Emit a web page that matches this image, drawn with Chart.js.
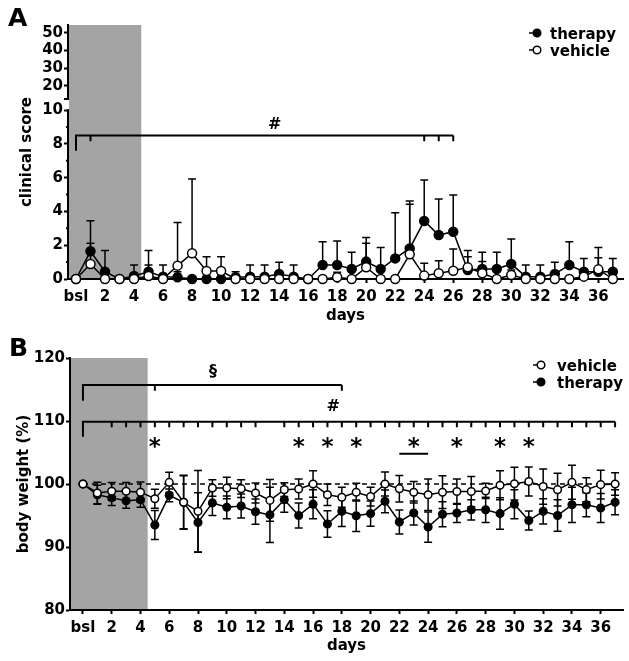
<!DOCTYPE html>
<html>
<head>
<meta charset="utf-8">
<script src="https://cdn.jsdelivr.net/npm/chart.js@4.4.1/dist/chart.umd.min.js"></script>
<style>
  body { margin: 0; background: #fff; }
  #wrapA { position: absolute; left: 0; top: 0; }
  #wrapB { position: absolute; left: 0; top: 320px; }
</style>
</head>
<body>
<div id="wrapA"><canvas id="chartA" width="629" height="330"></canvas></div>
<div id="wrapB"><canvas id="chartB" width="629" height="341"></canvas></div>
<script>
// days after start, bsl = 0
const days = [0, 1, 2, 3, 4, 5, 6, 7, 8, 9, 10, 11, 12, 13, 14, 15, 16, 17, 18, 19,
              20, 21, 22, 23, 24, 25, 26, 27, 28, 29, 30, 31, 32, 33, 34, 35, 36, 37];
const dayTickValues = [0, 2, 4, 6, 8, 10, 12, 14, 16, 18, 20, 22, 24, 26, 28, 30, 32, 34, 36];
const dayTickLabels = ['bsl', '2', '4', '6', '8', '10', '12', '14', '16', '18', '20', '22', '24', '26', '28', '30', '32', '34', '36'];
const treatmentEnd = 4.5;

// A - clinical score
const scoreTherapy = [0, 1.64, 0.43, 0, 0.18, 0.43, 0.14, 0.1, 0, 0, 0, 0.1, 0.14, 0.14, 0.3, 0.14, 0, 0.83, 0.83, 0.59,
                      1.03, 0.59, 1.22, 1.81, 3.43, 2.6, 2.8, 0.53, 0.59, 0.59, 0.89, 0.14, 0.14, 0.3, 0.83, 0.43, 0.43, 0.43];
const scoreTherapySd = [0, 1.81, 1.25, 0, 0.65, 1.25, 0.69, 0.33, 0, 0, 0, 0.33, 0.69, 0.69, 0.69, 0.69, 0, 1.38, 1.42, 0.99,
                        1.42, 1.28, 2.7, 2.81, 2.43, 2.13, 2.17, 0.79, 0.99, 0.99, 1.48, 0.69, 0.69, 0.69, 1.38, 0.79, 1.44, 0.79];
const scoreVehicle = [0, 0.89, 0, 0, 0, 0.18, 0, 0.79, 1.52, 0.47, 0.47, 0, 0, 0, 0, 0, 0, 0, 0.1, 0,
                      0.69, 0, 0, 1.46, 0.2, 0.34, 0.49, 0.69, 0.34, 0, 0.24, 0, 0, 0, 0, 0.14, 0.57, 0];
const scoreVehicleSd = [0, 1.22, 0, 0, 0, 0.65, 0, 2.56, 4.4, 0.85, 0.85, 0, 0, 0, 0, 0, 0, 0, 0.3, 0,
                        1.42, 0, 0, 2.96, 0.73, 0.74, 1.29, 0.99, 0.69, 0, 0.3, 0, 0, 0, 0, 0.3, 0.69, 0];
const scoreTicks = [0, 2, 4, 6, 8, 10, 20, 30, 40, 50];
const scoreMinorTicks = [1, 3, 5, 7, 9];
const hashTicksA = [1, 24, 25, 26];

// B - body weight (%)
const weightVehicle = [100, 98.57, 98.84, 98.84, 98.7, 97.67, 100.26, 97.1, 95.66, 99.37, 99.37, 99.26, 98.57, 97.4, 99.1, 99.2, 100, 98.3, 97.9, 98.7,
                       98.0, 100, 99.26, 98.7, 98.3, 98.7, 98.8, 98.8, 98.9, 99.8, 100.05, 100.4, 99.6, 99.1, 100.26, 99.1, 99.9, 100];
const weightVehicleSd = [0, 1.7, 1.4, 1.4, 1.6, 1.5, 1.6, 4.3, 6.5, 1.3, 1.7, 1.4, 1.6, 3.3, 1.1, 1.6, 2.1, 1.7, 1.6, 1.4,
                         1.5, 1.9, 2.1, 1.7, 2.5, 2.6, 2.0, 2.4, 1.2, 2.3, 2.6, 2.3, 2.8, 2.6, 2.7, 1.9, 2.3, 1.8];
const weightTherapy = [100, 98.3, 97.8, 97.35, 97.5, 93.5, 98.2, 97.1, 93.9, 97.0, 96.3, 96.5, 95.6, 95.1, 97.5, 95.0, 96.8, 93.65, 95.66, 94.97,
                       95.3, 97.25, 93.97, 95.4, 93.17, 95.2, 95.4, 95.9, 95.9, 95.3, 96.8, 94.2, 95.66, 95.0, 96.7, 96.7, 96.2, 97.1];
const weightTherapySd = [0, 1.5, 1.2, 1.2, 1.2, 2.3, 1.0, 4.2, 4.7, 2.0, 1.8, 1.9, 2.0, 4.4, 2.0, 2.0, 2.3, 2.1, 2.4, 2.5,
                         2.0, 1.8, 1.9, 1.9, 2.4, 2.0, 1.5, 1.6, 2.0, 2.5, 2.3, 1.5, 2.0, 2.5, 2.8, 1.9, 2.3, 2.0];
const weightTicks = [80, 90, 100, 110, 120];
const starDaysB = [5, 15, 17, 19, 23, 26, 29, 31];
const sectionTicksB = [5, 18];
const hashTicksB = [2, 3, 4, 5, 6, 7, 8, 9, 10, 11, 12, 14, 15, 16, 17, 18, 19, 20, 21, 22, 23, 24, 25,
                    26, 27, 28, 29, 30, 31, 32, 33, 34, 35, 36, 37];

const shade = '#a4a4a4';
const fam = 'DejaVu Sans';
const tickFont = { family: fam, size: 15, weight: 'bold' };
const yTickFont = { family: fam, size: 15, weight: 'bold' };
const titleFont = { family: fam, size: 15, weight: 'bold' };

// broken y axis for panel A: 0..10 below, 12.6..54.5 above
const brk = { lowMax: 10, lowFrac: 0.665, highMin: 12.6, highMax: 54.5, highFrac: 0.709 };

class BrokenScale extends Chart.LinearScale {
  getPixelForValue(v) {
    if (v === null || v === undefined || isNaN(v)) return NaN;
    let dec;
    if (v <= brk.lowMax) dec = v / brk.lowMax * brk.lowFrac;
    else dec = brk.highFrac + (v - brk.highMin) / (brk.highMax - brk.highMin) * (1 - brk.highFrac);
    return this.getPixelForDecimal(dec);
  }
  getValueForPixel(p) {
    const dec = this.getDecimalForPixel(p);
    if (dec <= brk.lowFrac) return dec / brk.lowFrac * brk.lowMax;
    return brk.highMin + (dec - brk.highFrac) / (1 - brk.highFrac) * (brk.highMax - brk.highMin);
  }
}
BrokenScale.id = 'broken';
BrokenScale.defaults = Chart.LinearScale.defaults;
Chart.register(BrokenScale);

function series(label, ys, sd, filled, r) {
  return {
    label: label,
    data: days.map((d, i) => ({ x: d, y: ys[i] })),
    errors: sd,
    borderColor: '#000',
    backgroundColor: filled ? '#000' : '#fff',
    pointBackgroundColor: filled ? '#000' : '#fff',
    pointBorderColor: '#000',
    pointRadius: r,
    pointBorderWidth: 1.5,
    borderWidth: 1.5,
    tension: 0,
    clip: false,
    order: filled ? 1 : 0
  };
}

function drawErrorBars(chart, twoSided) {
  const { ctx, scales: { y } } = chart;
  ctx.save();
  ctx.strokeStyle = '#000';
  ctx.lineWidth = 1.5;
  chart.data.datasets.forEach((ds, di) => {
    const meta = chart.getDatasetMeta(di);
    ds.errors.forEach((e, i) => {
      if (!e) return;
      const pt = meta.data[i];
      const m = ds.data[i].y;
      const top = y.getPixelForValue(m + e);
      const bot = twoSided ? y.getPixelForValue(m - e) : pt.y;
      ctx.beginPath();
      ctx.moveTo(pt.x, top); ctx.lineTo(pt.x, bot);
      ctx.moveTo(pt.x - 4, top); ctx.lineTo(pt.x + 4, top);
      if (twoSided) { ctx.moveTo(pt.x - 4, bot); ctx.lineTo(pt.x + 4, bot); }
      ctx.stroke();
    });
  });
  ctx.restore();
}

function drawBracket(chart, from, to, level, leftEnd, ticks, tickEnd) {
  const { ctx, scales: { x, y } } = chart;
  const yl = y.getPixelForValue(level);
  ctx.save();
  ctx.strokeStyle = '#000';
  ctx.lineWidth = 2;
  ctx.beginPath();
  ctx.moveTo(x.getPixelForValue(from), y.getPixelForValue(leftEnd));
  ctx.lineTo(x.getPixelForValue(from), yl);
  ctx.lineTo(x.getPixelForValue(to), yl);
  ticks.forEach(t => {
    ctx.moveTo(x.getPixelForValue(t), yl);
    ctx.lineTo(x.getPixelForValue(t), y.getPixelForValue(tickEnd));
  });
  ctx.stroke();
  ctx.restore();
}

function drawText(chart, txt, day, val, size, dy) {
  const { ctx, scales: { x, y } } = chart;
  ctx.save();
  ctx.fillStyle = '#000';
  ctx.font = 'bold ' + size + 'px "' + fam + '"';
  ctx.textAlign = 'center';
  ctx.textBaseline = 'middle';
  ctx.fillText(txt, x.getPixelForValue(day), y.getPixelForValue(val) + (dy || 0));
  ctx.restore();
}

function drawLegend(chart, order, cx, cy, dy, tx) {
  const ctx = chart.ctx;
  ctx.save();
  ctx.font = 'bold 15px "' + fam + '"';
  ctx.textBaseline = 'alphabetic';
  ctx.textAlign = 'left';
  order.forEach((di, k) => {
    const ds = chart.data.datasets[di];
    const yy = cy + k * dy;
    ctx.strokeStyle = '#000';
    ctx.lineWidth = 1.5;
    ctx.beginPath(); ctx.moveTo(cx - 8, yy); ctx.lineTo(cx, yy); ctx.stroke();
    ctx.beginPath(); ctx.arc(cx, yy, 3.8, 0, Math.PI * 2);
    ctx.fillStyle = ds.pointBackgroundColor; ctx.fill(); ctx.stroke();
    ctx.fillStyle = '#000';
    ctx.fillText(ds.label, tx, yy + 6);
  });
  ctx.restore();
}

function panelLetter(chart, txt, x, y) {
  const ctx = chart.ctx;
  ctx.save();
  ctx.fillStyle = '#000';
  ctx.font = 'bold 25px "' + fam + '"';
  ctx.fillText(txt, x, y);
  ctx.restore();
}

function xAxis(min, max, height, titlePad) {
  return {
    type: 'linear', min: min, max: max,
    afterBuildTicks: s => { s.ticks = dayTickValues.map(v => ({ value: v })); },
    afterFit: s => { s.height = height; },
    ticks: { callback: (v, i) => dayTickLabels[i], font: tickFont, color: '#000', padding: 5, maxRotation: 0, autoSkip: false },
    grid: { display: true, drawOnChartArea: false, drawTicks: true, tickLength: 4, tickColor: '#000', tickWidth: 2 },
    border: { display: true, color: '#000', width: 2 },
    title: { display: true, text: 'days', font: titleFont, color: '#000', padding: { top: 0, bottom: titlePad } }
  };
}

const plugA = {
  id: 'plugA',
  beforeDatasetsDraw(chart) {
    const { ctx, chartArea: a, scales: { x, y } } = chart;
    ctx.save();
    ctx.fillStyle = shade;
    ctx.fillRect(a.left + 1, a.top, x.getPixelForValue(treatmentEnd) - a.left - 1, a.bottom - a.top - 1);
    // axis break
    const yLow = y.getPixelForValue(brk.lowMax);
    const yHigh = y.getPixelForDecimal(brk.highFrac);
    ctx.fillStyle = '#fff';
    ctx.fillRect(a.left - 3, yHigh + 1, 4, yLow - yHigh - 2);
    ctx.strokeStyle = '#000';
    ctx.lineWidth = 2;
    ctx.beginPath();
    ctx.moveTo(a.left - 4, yHigh); ctx.lineTo(a.left + 1, yHigh);
    scoreMinorTicks.forEach(v => {
      const p = y.getPixelForValue(v);
      ctx.moveTo(a.left - 2, p); ctx.lineTo(a.left, p);
    });
    ctx.stroke();
    ctx.restore();
    drawErrorBars(chart, false);
  },
  afterDraw(chart) {
    drawBracket(chart, 0, 26, 8.5, 7.6, hashTicksA, 8.15);
    drawText(chart, '#', 13.7, 9.1, 16, 0);
    drawLegend(chart, [0, 1], 537, 33, 17, 550);
    panelLetter(chart, 'A', 8, 26);
  }
};

const plugB = {
  id: 'plugB',
  beforeDatasetsDraw(chart) {
    const { ctx, chartArea: a, scales: { x, y } } = chart;
    ctx.save();
    ctx.fillStyle = shade;
    ctx.fillRect(a.left + 1, a.top, x.getPixelForValue(treatmentEnd) - a.left - 1, a.bottom - a.top - 1);
    ctx.strokeStyle = '#000';
    ctx.lineWidth = 1.5;
    ctx.setLineDash([5, 4]);
    ctx.beginPath();
    ctx.moveTo(x.getPixelForValue(0), y.getPixelForValue(100));
    ctx.lineTo(x.getPixelForValue(37), y.getPixelForValue(100));
    ctx.stroke();
    ctx.restore();
    drawErrorBars(chart, true);
  },
  afterDraw(chart) {
    const { ctx, scales: { x, y } } = chart;
    drawBracket(chart, 0, 18, 115.7, 113.2, sectionTicksB, 114.8);
    drawBracket(chart, 0, 37, 109.9, 107.5, hashTicksB, 109.0);
    drawText(chart, '\u00a7', 9.04, 117.8, 16, 0);
    drawText(chart, '#', 17.4, 112.2, 16, 0);
    starDaysB.forEach(d => drawText(chart, '*', d, 106.3, 23, 4));
    ctx.save();
    ctx.strokeStyle = '#000';
    ctx.lineWidth = 2;
    ctx.beginPath();
    ctx.moveTo(x.getPixelForValue(22), y.getPixelForValue(104.8));
    ctx.lineTo(x.getPixelForValue(24), y.getPixelForValue(104.8));
    ctx.stroke();
    ctx.restore();
    drawLegend(chart, [0, 1], 541, 45, 17, 557);
    panelLetter(chart, 'B', 9, 36);
  }
};

new Chart(document.getElementById('chartA'), {
  type: 'line',
  data: {
    datasets: [
      series('therapy', scoreTherapy, scoreTherapySd, true, 4.5),
      series('vehicle', scoreVehicle, scoreVehicleSd, false, 4.5)
    ]
  },
  options: {
    responsive: false,
    animation: false,
    layout: { padding: { top: 25, right: 1, left: 0, bottom: 0 } },
    plugins: { legend: { display: false }, tooltip: { enabled: false } },
    scales: {
      x: xAxis(-0.55, 37.7, 51, 5),
      y: {
        type: 'broken', min: 0, max: brk.highMax,
        afterBuildTicks: s => { s.ticks = scoreTicks.map(v => ({ value: v })); },
        afterFit: s => { s.width = 68; },
        ticks: { font: yTickFont, color: '#000', padding: 1 },
        grid: { display: true, drawOnChartArea: false, drawTicks: true, tickLength: 4, tickColor: '#000', tickWidth: 2 },
        border: { display: true, color: '#000', width: 2 },
        title: { display: true, text: 'clinical score', font: titleFont, color: '#000', padding: { top: 18, bottom: 0 } }
      }
    }
  },
  plugins: [plugA]
});

new Chart(document.getElementById('chartB'), {
  type: 'line',
  data: {
    datasets: [
      series('vehicle', weightVehicle, weightVehicleSd, false, 3.8),
      series('therapy', weightTherapy, weightTherapySd, true, 3.8)
    ]
  },
  options: {
    responsive: false,
    animation: false,
    layout: { padding: { top: 38, right: 6, left: 0, bottom: 0 } },
    plugins: { legend: { display: false }, tooltip: { enabled: false } },
    scales: {
      x: xAxis(-0.9, 37.55, 51, 6),
      y: {
        type: 'linear', min: 80, max: 120,
        afterBuildTicks: s => { s.ticks = weightTicks.map(v => ({ value: v })); },
        afterFit: s => { s.width = 70; },
        ticks: { font: yTickFont, color: '#000', padding: 1 },
        grid: { display: true, drawOnChartArea: false, drawTicks: true, tickLength: 4, tickColor: '#000', tickWidth: 2 },
        border: { display: true, color: '#000', width: 2 },
        title: { display: true, text: 'body weight (%)', font: titleFont, color: '#000', padding: { top: 15, bottom: 0 } }
      }
    }
  },
  plugins: [plugB]
});
</script>
</body>
</html>
